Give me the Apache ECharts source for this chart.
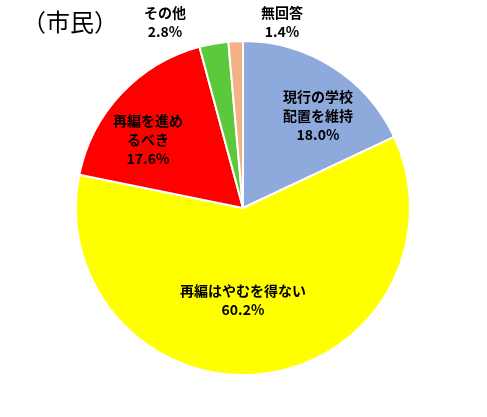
<!DOCTYPE html>
<html><head><meta charset="utf-8">
<script src="https://cdn.jsdelivr.net/npm/echarts@6/dist/echarts.min.js"></script>
<style>html,body{margin:0;padding:0;background:#fff}#c{width:487px;height:417px}</style>
</head><body><div id="c"></div>
<script>
var names = ['現行の学校\n配置を維持', '再編はやむを得ない', '再編を進め\nるべき', 'その他', '無回答'];
var values = [18.0, 60.2, 17.6, 2.8, 1.4];
var colors = ['#8EA9DB', '#FFFF00', '#FF0000', '#5CC83C', '#F4B183'];
var labelPos = [[318, 116], [243, 300], [148, 140], [165, 22], [282, 22]];

var chart = echarts.init(document.getElementById('c'));
chart.setOption({
    animation: false,
    graphic: [{ type: 'text', left: 22, top: 10, style: { text: '（市民）', font: '24px "Noto Sans CJK JP"', fill: '#000' } }],
    series: [{
        type: 'pie',
        center: [243, 208],
        radius: 167,
        startAngle: 90,
        clockwise: true,
        itemStyle: { borderColor: '#fff', borderWidth: 2 },
        labelLine: { show: false },
        label: {
            position: 'inside',
            formatter: function (p) { return p.name + '\n' + p.value.toFixed(1) + '%'; },
            fontFamily: 'Noto Sans CJK JP', fontSize: 14, fontWeight: 'bold', color: '#000',
            lineHeight: 19, align: 'center'
        },
        labelLayout: function (p) {
            return { x: labelPos[p.dataIndex][0], y: labelPos[p.dataIndex][1], align: 'center', verticalAlign: 'middle' };
        },
        data: names.map(function (n, i) { return { name: n, value: values[i], itemStyle: { color: colors[i] } }; })
    }]
});
</script></body></html>
